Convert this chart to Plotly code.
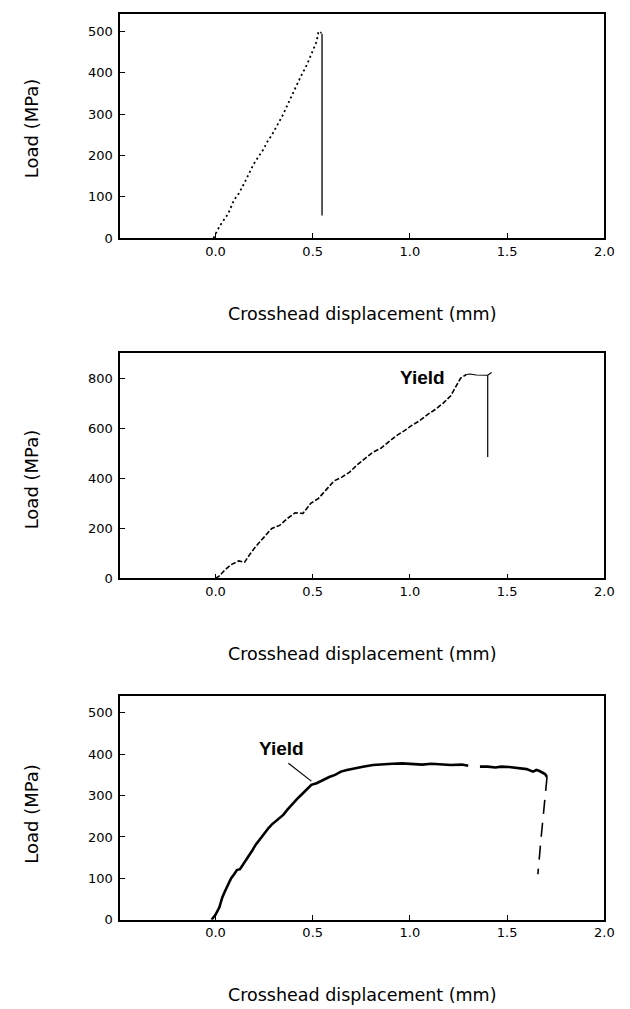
import plotly.graph_objects as go

# ---------------- data ----------------
# Panel 1 : brittle specimen
p1_load_x = [-0.01, 0.0, 0.02, 0.04, 0.065, 0.095, 0.12, 0.146, 0.17, 0.196, 0.22, 0.247,
             0.27, 0.287, 0.32, 0.348, 0.38, 0.409, 0.44, 0.47, 0.50, 0.52, 0.53, 0.545]
p1_load_y = [0, 10, 28, 42, 59, 92, 108, 131, 155, 179, 196, 215,
             236, 247, 275, 299, 332, 363, 392, 419, 452, 475, 500, 496]
p1_drop_x = [0.548, 0.548]
p1_drop_y = [494, 55]

# Panel 2 : high strength specimen
p2_load_x = [0.0, 0.02, 0.05, 0.08, 0.12, 0.15, 0.18, 0.21, 0.25, 0.29, 0.33, 0.37, 0.41,
             0.45, 0.49, 0.53, 0.57, 0.61, 0.65, 0.69, 0.73, 0.77, 0.81, 0.85, 0.89, 0.93,
             0.97, 1.01, 1.05, 1.09, 1.13, 1.17, 1.21, 1.23, 1.26, 1.29]
p2_load_y = [0, 10, 35, 55, 70, 65, 100, 130, 165, 200, 212, 240, 262,
             260, 300, 320, 355, 390, 405, 425, 455, 480, 505, 520, 545, 570,
             590, 612, 630, 655, 675, 700, 730, 760, 800, 815]
p2_plateau_x = [1.29, 1.31, 1.34, 1.37, 1.40, 1.42]
p2_plateau_y = [815, 817, 813, 812, 812, 823]
p2_drop_x = [1.40, 1.40]
p2_drop_y = [812, 485]

# Panel 3 : ductile specimen
p3_curve_x = [-0.02, 0.0, 0.02, 0.035, 0.05, 0.065, 0.08, 0.096, 0.11, 0.126, 0.145, 0.167,
              0.19, 0.208, 0.228, 0.248, 0.27, 0.289, 0.32, 0.35, 0.37, 0.391, 0.42, 0.442,
              0.47, 0.493, 0.52, 0.554, 0.585, 0.615, 0.645, 0.676, 0.72, 0.758, 0.81, 0.859,
              0.91, 0.961, 1.01, 1.063, 1.11, 1.165, 1.21, 1.267, 1.30, None,
              1.36, 1.40, 1.44, 1.47, 1.51, 1.54, 1.572, 1.60, 1.633, 1.65, 1.664, 1.68,
              1.695, 1.705]
p3_curve_y = [0, 12, 30, 54, 70, 86, 100, 110, 120, 122, 135, 150,
              168, 182, 195, 206, 220, 230, 243, 254, 266, 278, 292, 302,
              315, 326, 330, 338, 345, 350, 358, 362, 367, 370, 374, 376,
              377, 378, 376, 375, 377, 375, 374, 375, 372, None,
              370, 370, 368, 370, 369, 367, 366, 364, 358, 362, 360, 355,
              352, 345]
p3_drop_x = [1.705, 1.690, 1.675, 1.658]
p3_drop_y = [345, 280, 200, 110]

# annotations
p2_yield_xy = (1.063, 805)
p3_yield_xy = (0.34, 414)
p3_yield_line = (0.375, 378, 0.493, 335)

x_ticks = [0.0, 0.5, 1.0, 1.5, 2.0]
x_range = [-0.49, 2.0]
y1_ticks = [0, 100, 200, 300, 400, 500]
y2_ticks = [0, 200, 400, 600, 800]
y3_ticks = [0, 100, 200, 300, 400, 500]
x_title = "Crosshead displacement (mm)"
y_title = "Load (MPa)"

# ---------------- figure ----------------
W, H = 630, 1009
fig = go.Figure()

def tr(x, y, xa, ya, width, dash, color="black"):
    fig.add_trace(go.Scatter(x=x, y=y, mode="lines", xaxis=xa, yaxis=ya,
                             line=dict(color=color, width=width, dash=dash),
                             connectgaps=False, showlegend=False, hoverinfo="skip"))

tr(p1_load_x, p1_load_y, "x", "y", 1.8, "2px,3px")
tr(p1_drop_x, p1_drop_y, "x", "y", 1.3, "solid")
tr(p2_load_x, p2_load_y, "x2", "y2", 1.6, "5px,2px")
tr(p2_plateau_x, p2_plateau_y, "x2", "y2", 1.2, "solid")
tr(p2_drop_x, p2_drop_y, "x2", "y2", 1.2, "solid")
tr(p3_curve_x, p3_curve_y, "x3", "y3", 2.6, "solid")
tr(p3_drop_x, p3_drop_y, "x3", "y3", 1.6, "14px,9px")

px_x0, px_x1 = 114, 606
panels = [(6, 232, y1_ticks, [0, 542]), (348, 575, y2_ticks, [0, 900]), (693, 919, y3_ticks, [0, 542])]
tick_font = dict(family="DejaVu Sans", size=13, color="black")
layout = dict(width=W, height=H, margin=dict(l=0, r=0, t=0, b=0),
              paper_bgcolor="white", plot_bgcolor="white", showlegend=False)
for i, (top, bot, yt, yr) in enumerate(panels):
    sfx = "" if i == 0 else str(i + 1)
    layout["xaxis" + sfx] = dict(domain=[px_x0 / W, px_x1 / W], anchor="y" + sfx, range=x_range,
                                 tickvals=x_ticks, tickformat=".1f", ticks="inside", ticklen=5,
                                 tickcolor="black", showline=True, linecolor="black", linewidth=1.5,
                                 mirror=True, showgrid=False, zeroline=False, tickfont=tick_font,
                                 ticklabelstandoff=0)
    layout["yaxis" + sfx] = dict(domain=[1 - bot / H, 1 - top / H], anchor="x" + sfx, range=yr,
                                 tickvals=yt, ticks="inside", ticklen=5, tickcolor="black",
                                 showline=True, linecolor="black", linewidth=1.5, mirror=True,
                                 showgrid=False, zeroline=False, tickfont=tick_font,
                                 ticklabelstandoff=3)
fig.update_layout(**layout)

ann = []
ytitle_centers = [121, 475, 812]
for i, (top, bot, yt, yr) in enumerate(panels):
    ann.append(dict(text=x_title, xref="paper", yref="paper", x=(px_x0 + px_x1) / 2 / W,
                    y=1 - (bot + 76) / H, xanchor="center", yanchor="middle", showarrow=False,
                    font=dict(family="DejaVu Sans", size=17.5, color="black")))
    ann.append(dict(text=y_title, xref="paper", yref="paper", x=23.5 / W,
                    y=1 - ytitle_centers[i] / H, xanchor="center", yanchor="middle",
                    textangle=-90, showarrow=False,
                    font=dict(family="DejaVu Sans", size=18, color="black")))
ann.append(dict(text="<b>Yield</b>", xref="x2", yref="y2", x=p2_yield_xy[0], y=p2_yield_xy[1],
                showarrow=False, font=dict(family="Liberation Sans", size=19, color="black")))
ann.append(dict(text="<b>Yield</b>", xref="x3", yref="y3", x=p3_yield_xy[0], y=p3_yield_xy[1],
                showarrow=False, font=dict(family="Liberation Sans", size=19, color="black")))
fig.update_layout(annotations=ann)
fig.add_shape(type="line", xref="x3", yref="y3", x0=p3_yield_line[0], y0=p3_yield_line[1],
              x1=p3_yield_line[2], y1=p3_yield_line[3], line=dict(color="black", width=1.2))

fig.write_html("out.html")
